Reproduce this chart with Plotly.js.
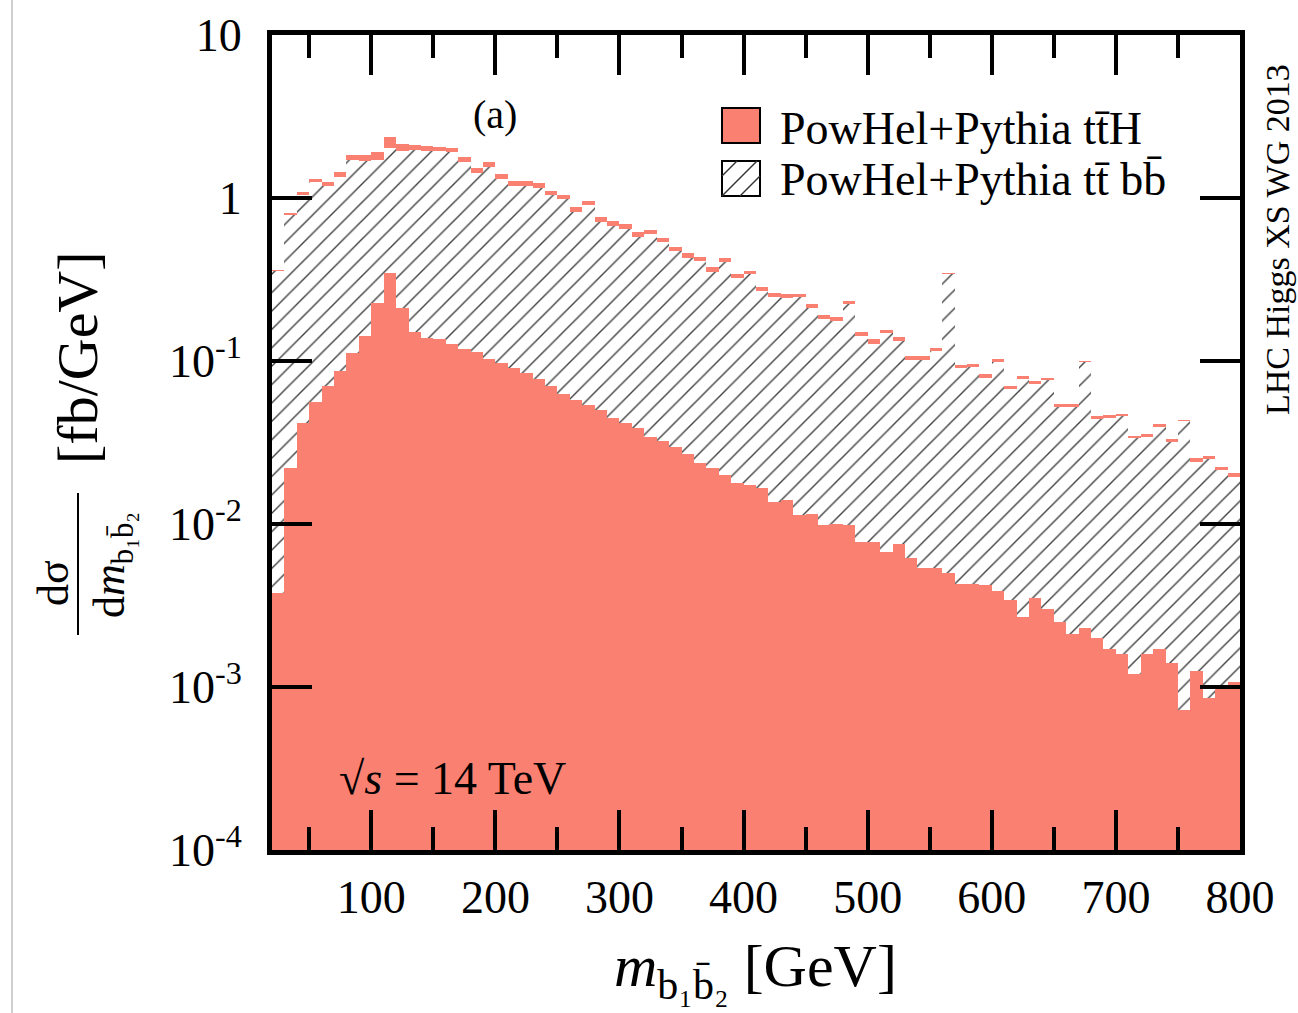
<!DOCTYPE html>
<html>
<head>
<meta charset="utf-8">
<script src="https://cdn.plot.ly/plotly-3.0.1.min.js"></script>
<style>html,body{margin:0;padding:0;background:#fff;}#chart{width:1298px;height:1013px;}</style>
</head>
<body>
<div id="chart"></div>
<script>
// bin centres of the 10 GeV bins, m_b1b2 [GeV]
const binCenters = [25,35,45,55,65,75,85,95,105,115,125,135,145,155,165,175,185,195,
  205,215,225,235,245,255,265,275,285,295,305,315,325,335,345,355,365,375,385,395,
  405,415,425,435,445,455,465,475,485,495,505,515,525,535,545,555,565,575,585,595,
  605,615,625,635,645,655,665,675,685,695,705,715,725,735,745,755,765,775,785,795];
const binWidth = 10;

// PowHel+Pythia ttH  [fb/GeV]
const ttH = [0.0038,0.022,0.0415,0.056,0.070,0.087,0.112,0.142,0.228,0.347,0.21,0.151,0.138,0.137,0.128,0.118,0.113,0.103,
  0.097,0.090,0.084,0.078,0.070,0.063,0.058,0.054,0.050,0.0449,0.0418,0.0387,0.034,0.0321,0.0298,0.0268,0.0238,0.0221,0.0199,0.0179,
  0.0174,0.0167,0.0137,0.0140,0.0113,0.0115,0.0098,0.0100,0.0098,0.0078,0.0078,0.0067,0.0075,0.0062,0.0054,0.0054,0.0050,0.0043,0.0043,0.0042,
  0.0039,0.0034,0.0027,0.0035,0.0030,0.0025,0.0021,0.0023,0.0020,0.0017,0.0016,0.0012,0.0016,0.0017,0.0014,0.00072,0.00126,0.00086,0.00097,0.00108];

// PowHel+Pythia ttbb  [fb/GeV]
const ttbb = [0.356,0.79,1.05,1.25,1.18,1.35,1.72,1.69,1.70,2.02,1.93,1.96,1.94,1.93,1.91,1.66,1.42,1.56,
  1.30,1.19,1.19,1.15,1.04,0.98,0.82,0.90,0.71,0.675,0.65,0.58,0.60,0.534,0.47,0.43,0.41,0.354,0.407,0.324,
  0.341,0.269,0.248,0.244,0.247,0.212,0.181,0.177,0.224,0.142,0.128,0.149,0.133,0.101,0.102,0.115,0.343,0.0905,0.092,0.0787,
  0.099,0.067,0.0778,0.072,0.076,0.052,0.052,0.098,0.044,0.045,0.0458,0.0336,0.034,0.0395,0.0317,0.0427,0.0241,0.0252,0.0214,0.0195];

const xTickVals = [100,200,300,400,500,600,700,800];
const xTickText = ['100','200','300','400','500','600','700','800'];
const yTickVals = [1e-4,1e-3,1e-2,1e-1,1,10];
const yTickText = ['10<sup>-4</sup>','10<sup>-3</sup>','10<sup>-2</sup>','10<sup>-1</sup>','1','10'];

const SALMON = '#FA8072';
const FONT = 'Liberation Serif, Times New Roman, serif';

const traces = [
  { // ttbb hatched
    type:'bar', x:binCenters, y:ttbb, width:binWidth, name:'PowHel+Pythia ttbb',
    marker:{color:'#444', line:{width:0},
      pattern:{shape:'/', fillmode:'replace', bgcolor:'#ffffff', fgcolor:'#444', size:13, solidity:0.11}},
    hoverinfo:'skip', showlegend:false
  },
  { // ttH stacked on top of ttbb
    type:'bar', x:binCenters, y:ttH, base:ttbb, width:binWidth, name:'stack',
    marker:{color:SALMON, line:{width:0}}, hoverinfo:'skip', showlegend:false
  },
  { // ttH
    type:'bar', x:binCenters, y:ttH, width:binWidth, name:'PowHel+Pythia ttH',
    marker:{color:SALMON, line:{width:0}}, hoverinfo:'skip', showlegend:false
  }
];

function px(xp){return (xp-272)/968;}
function py(yp){return (850-yp)/815;}
function ann(x, y, text, size, extra){
  return Object.assign({xref:'paper', yref:'paper', x:px(x), y:py(y), text:text, showarrow:false,
    xanchor:'center', yanchor:'middle', font:{family:FONT, size:size, color:'#000'}}, extra||{});
}

const layout = {
  width:1298, height:1013,
  margin:{l:272, r:58, t:35, b:163},
  paper_bgcolor:'#fff', plot_bgcolor:'#fff',
  barmode:'overlay', bargap:0,
  showlegend:false,
  font:{family:FONT, color:'#000', size:46},
  xaxis:{
    range:[20,800], tickmode:'array', tickvals:xTickVals, ticktext:xTickText,
    ticks:'inside', ticklen:40, tickwidth:4, tickcolor:'#000',
    minor:{dtick:50, tick0:0, ticks:'inside', ticklen:23, tickwidth:4, tickcolor:'#000', showgrid:false},
    showline:true, linewidth:5, linecolor:'#000', mirror:'allticks',
    showgrid:false, zeroline:false, ticklabelstandoff:3, automargin:false,
    tickfont:{family:FONT, size:46, color:'#000'}
  },
  yaxis:{
    type:'log', range:[-4,1], tickmode:'array', tickvals:yTickVals, ticktext:yTickText,
    ticks:'inside', ticklen:40, tickwidth:4, tickcolor:'#000',
    showline:true, linewidth:5, linecolor:'#000', mirror:'allticks',
    showgrid:false, zeroline:false, ticklabelstandoff:16, automargin:false,
    tickfont:{family:FONT, size:46, color:'#000'}
  },
  shapes:[
    {type:'line', xref:'paper', yref:'paper', x0:px(12), x1:px(12), y0:py(0), y1:py(1013), line:{color:'#d0d0d0', width:2}},
    // y-title fraction bar
    {type:'line', xref:'paper', yref:'paper', x0:px(78), x1:px(78), y0:py(493), y1:py(635), line:{color:'#000', width:2}},
    // legend boxes
    {type:'rect', xref:'paper', yref:'paper', x0:px(722), x1:px(760), y0:py(143), y1:py(108), fillcolor:SALMON, line:{color:'#000', width:2}},
    {type:'rect', xref:'paper', yref:'paper', x0:px(722), x1:px(760), y0:py(196), y1:py(161), fillcolor:'#fff', line:{color:'#000', width:2}},
    {type:'line', xref:'paper', yref:'paper', x0:px(722), y0:py(176), x1:px(737), y1:py(161), line:{color:'#333', width:1.5}},
    {type:'line', xref:'paper', yref:'paper', x0:px(722), y0:py(196), x1:px(757), y1:py(161), line:{color:'#333', width:1.5}},
    {type:'line', xref:'paper', yref:'paper', x0:px(740), y0:py(196), x1:px(760), y1:py(176), line:{color:'#333', width:1.5}}
  ],
  annotations:[
    ann(495, 115, '(a)', 40),
    ann(452, 778, '√<i>s</i> = 14 TeV', 46),
    ann(778, 128, 'PowHel+Pythia tt\u0304H', 46, {xanchor:'left'}),
    ann(778, 180, 'PowHel+Pythia tt\u0304 bb\u0304', 46, {xanchor:'left'}),
    ann(1277, 240, 'LHC Higgs XS WG 2013', 34, {textangle:-90}),
    ann(77, 358, '[fb/GeV]', 58, {textangle:-90}),
    ann(53, 583, 'dσ', 44, {textangle:-90}),
    ann(112, 565, 'd<i>m</i><sub>b₁b\u0304₂</sub>', 44, {textangle:-90}),
    ann(755, 970, '<i>m</i><sub>b₁b\u0304₂</sub> [GeV]', 60)
  ]
};

Plotly.newPlot('chart', traces, layout, {staticPlot:true});
</script>
</body>
</html>
